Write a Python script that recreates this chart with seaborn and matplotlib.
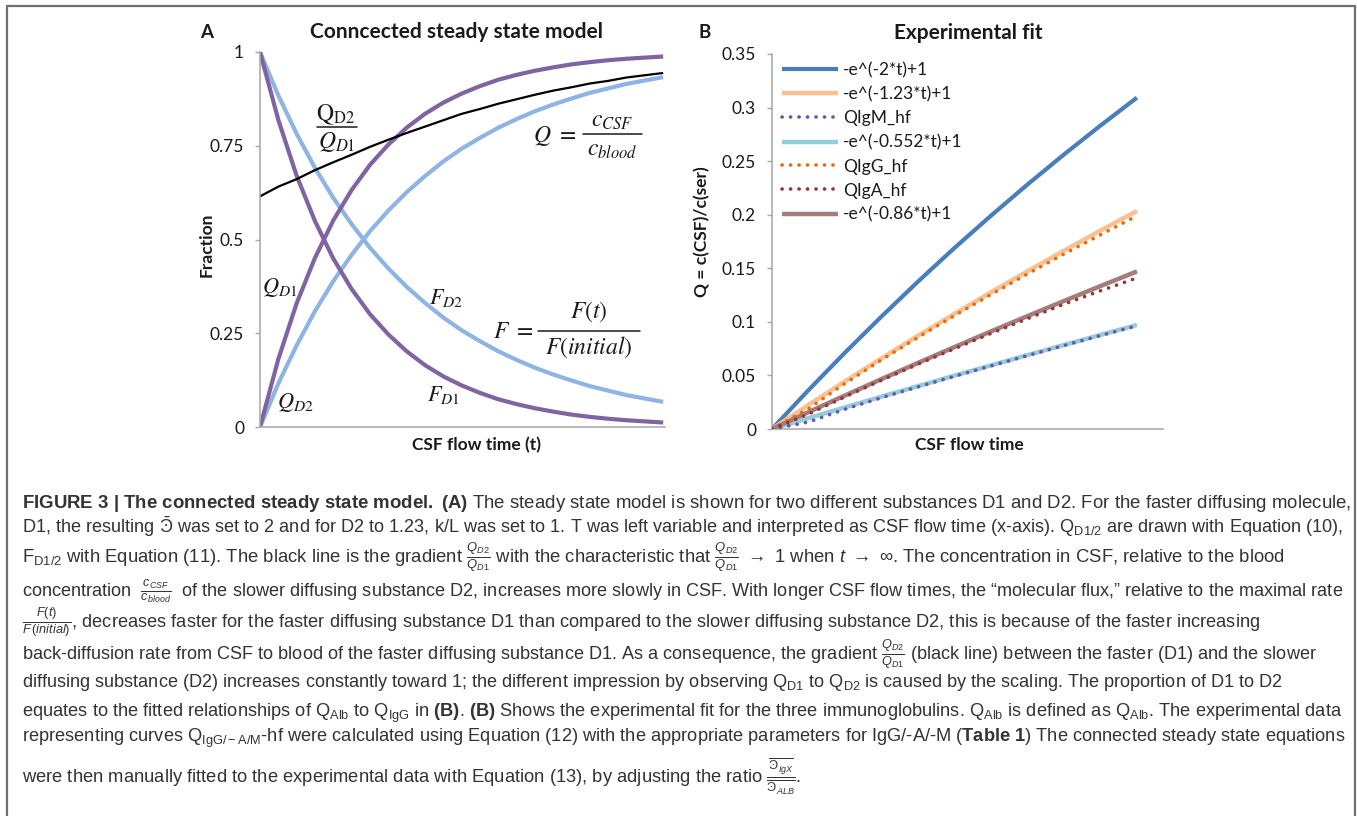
import matplotlib
matplotlib.use("Agg")
import matplotlib.pyplot as plt
from matplotlib.lines import Line2D
import seaborn as sns
import numpy as np
import pandas as pd

# ---------------- data ----------------
# Panel A: connected steady state model
t_A = [0.0, 0.1, 0.2, 0.3, 0.4, 0.5, 0.6, 0.7, 0.8, 0.9, 1.0, 1.1,
       1.2, 1.3, 1.4, 1.5, 1.6, 1.7, 1.8, 1.9, 2.0, 2.1, 2.2]
Q_D1 = [0.000, 0.181, 0.330, 0.451, 0.551, 0.632, 0.699, 0.753, 0.798, 0.835, 0.865, 0.889,
        0.909, 0.926, 0.939, 0.950, 0.959, 0.967, 0.973, 0.978, 0.982, 0.985, 0.988]
Q_D2 = [0.000, 0.116, 0.218, 0.309, 0.389, 0.459, 0.522, 0.577, 0.626, 0.669, 0.708, 0.742,
        0.771, 0.798, 0.821, 0.842, 0.860, 0.876, 0.891, 0.903, 0.915, 0.924, 0.933]
F_D1 = [1.000, 0.819, 0.670, 0.549, 0.449, 0.368, 0.301, 0.247, 0.202, 0.165, 0.135, 0.111,
        0.091, 0.074, 0.061, 0.050, 0.041, 0.033, 0.027, 0.022, 0.018, 0.015, 0.012]
F_D2 = [1.000, 0.884, 0.782, 0.691, 0.611, 0.541, 0.478, 0.423, 0.374, 0.331, 0.292, 0.258,
        0.229, 0.202, 0.179, 0.158, 0.140, 0.124, 0.109, 0.097, 0.085, 0.076, 0.067]
Q_ratio = [0.615, 0.641, 0.661, 0.685, 0.706, 0.726, 0.747, 0.766, 0.784, 0.801, 0.818, 0.835,
           0.848, 0.862, 0.874, 0.886, 0.897, 0.906, 0.916, 0.923, 0.932, 0.938, 0.944]
yticks_A = [0, 0.25, 0.5, 0.75, 1]
yticklabels_A = ["0", "0.25", "0.5", "0.75", "1"]

# Panel B: experimental fit
t_B = [0.0, 0.0185, 0.037, 0.0555, 0.074, 0.0925, 0.111, 0.1295, 0.148, 0.1665, 0.185]
fit_2 = [0.0, 0.0363, 0.0713, 0.1050, 0.1376, 0.1690, 0.1991, 0.2282, 0.2562, 0.2832, 0.3093]
fit_123 = [0.0, 0.0225, 0.0445, 0.0660, 0.0870, 0.1075, 0.1276, 0.1472, 0.1664, 0.1852, 0.2035]
IgM_hf = [0.0, 0.0065, 0.0185, 0.0292, 0.0393, 0.0492, 0.0589, 0.0685, 0.0779, 0.0872, 0.0963]
fit_0552 = [0.0, 0.0102, 0.0202, 0.0302, 0.0400, 0.0498, 0.0594, 0.0690, 0.0784, 0.0878, 0.0971]
IgG_hf = [0.0, 0.0190, 0.0425, 0.0645, 0.0855, 0.1058, 0.1255, 0.1447, 0.1633, 0.1812, 0.1990]
IgA_hf = [0.0, 0.0140, 0.0300, 0.0455, 0.0605, 0.0750, 0.0892, 0.1030, 0.1165, 0.1290, 0.1410]
fit_086 = [0.0, 0.0158, 0.0313, 0.0466, 0.0617, 0.0765, 0.0911, 0.1054, 0.1195, 0.1334, 0.1471]
series_B_labels = ["-e^(-2*t)+1", "-e^(-1.23*t)+1", "QIgM_hf", "-e^(-0.552*t)+1",
                   "QIgG_hf", "QIgA_hf", "-e^(-0.86*t)+1"]
yticks_B = [0, 0.05, 0.1, 0.15, 0.2, 0.25, 0.3, 0.35]
yticklabels_B = ["0", "0.05", "0.1", "0.15", "0.2", "0.25", "0.3", "0.35"]

# ---------------- style ----------------
W, H = 1357, 816
sns.set_theme(style="white")
plt.rcParams["font.family"] = ["Lato", "DejaVu Sans"]
plt.rcParams["mathtext.fontset"] = "custom"
plt.rcParams["mathtext.rm"] = "Liberation Sans"
plt.rcParams["mathtext.it"] = "Liberation Sans:italic"
plt.rcParams["mathtext.bf"] = "Liberation Sans:bold"
plt.rcParams["mathtext.sf"] = "Liberation Sans"
plt.rcParams["mathtext.fallback"] = "stixsans"

fig = plt.figure(figsize=(W / 100, H / 100), dpi=100)
fig.patch.set_facecolor("white")


def fx(px):
    return px / W


def fy(py):
    return 1 - py / H


PURPLE = "#8064A2"
LBLUE = "#8DB4E2"
AXC = "#A6A6A6"
TXT = "#1a1a1a"

axA = fig.add_axes([fx(260), fy(427), (665 - 260) / W, (427 - 52) / H])
axB = fig.add_axes([fx(772), fy(429), (1163 - 772) / W, (429 - 54) / H])

# ---------------- panel A ----------------
dfA = pd.DataFrame({"t": t_A, "QD1": Q_D1, "QD2": Q_D2, "FD1": F_D1, "FD2": F_D2, "R": Q_ratio})
for col, colr, lw in [("FD2", LBLUE, 3.0), ("QD2", LBLUE, 3.0), ("FD1", PURPLE, 3.0),
                      ("QD1", PURPLE, 3.0), ("R", "black", 1.6)]:
    sns.lineplot(data=dfA, x="t", y=col, ax=axA, color=colr, linewidth=lw, sort=False,
                 errorbar=None, solid_capstyle="butt", solid_joinstyle="round")
axA.set_xlim(0, 2.21)
axA.set_ylim(0, 1)
axA.set_yticks(yticks_A)
axA.set_yticklabels(yticklabels_A)

# ---------------- panel B ----------------
dfB = pd.DataFrame({"t": t_B, "s0": fit_2, "s1": fit_123, "s2": IgM_hf, "s3": fit_0552,
                    "s4": IgG_hf, "s5": IgA_hf, "s6": fit_086})
DOT = (0, (0.05, 2.3))
styles_B = [
    ("s0", "#4A7EBB", 3.0, "-", 3),
    ("s1", "#FAC090", 3.2, "-", 3),
    ("s2", "#7052A0", 2.6, DOT, 5),
    ("s3", "#93CDDD", 3.2, "-", 3),
    ("s4", "#E46C0A", 2.6, DOT, 5),
    ("s5", "#953735", 2.6, DOT, 5),
    ("s6", "#A37C7C", 3.2, "-", 3),
]
handles = []
for (col, colr, lw, ls, z), lab in zip(styles_B, series_B_labels):
    sns.lineplot(data=dfB, x="t", y=col, ax=axB, color=colr, linewidth=lw, linestyle=ls,
                 sort=False, errorbar=None, dash_capstyle="round", solid_capstyle="butt",
                 zorder=z)
    handles.append(Line2D([0], [0], color=colr, linewidth=lw, linestyle=ls,
                          dash_capstyle="round", solid_capstyle="butt"))
axB.set_xlim(0, 0.1982)
axB.set_ylim(0, 0.35)
axB.set_yticks(yticks_B)
axB.set_yticklabels(yticklabels_B)
leg = axB.legend(handles, series_B_labels, loc="upper left", bbox_to_anchor=(0.0256, 0.978),
                 frameon=False, fontsize=12.5, handlelength=3.2, handletextpad=0.3,
                 labelspacing=0.46, borderaxespad=0, borderpad=0)
for txt in leg.get_texts():
    txt.set_color(TXT)

for ax in (axA, axB):
    sns.despine(ax=ax)
    ax.set_xlabel("")
    ax.set_ylabel("")
    ax.spines["left"].set_color(AXC)
    ax.spines["bottom"].set_color(AXC)
    ax.spines["left"].set_linewidth(1.1)
    ax.spines["bottom"].set_linewidth(1.1)
    ax.set_xticks([])
    ax.tick_params(axis="y", left=True, length=3.5, width=1, color=AXC, labelsize=12.5,
                   pad=8, labelcolor=TXT)
    ax.grid(False)
    ax.set_facecolor("white")

# ---------------- panel titles / labels ----------------
fig.text(fx(207), fy(32), "A", fontsize=13.5, fontweight="bold", ha="center", va="center", color=TXT)
fig.text(fx(457), fy(32), "Conncected steady state model", fontsize=15, fontweight="bold",
         ha="center", va="center", color=TXT)
fig.text(fx(207), fy(245), "Fraction", fontsize=12.5, fontweight="bold", rotation=90,
         ha="center", va="center", color=TXT)
fig.text(fx(476), fy(445), "CSF flow time (t)", fontsize=12.5, fontweight="bold",
         ha="center", va="center", color=TXT)

fig.text(fx(705), fy(32), "B", fontsize=13.5, fontweight="bold", ha="center", va="center", color=TXT)
fig.text(fx(968), fy(33), "Experimental fit", fontsize=15, fontweight="bold",
         ha="center", va="center", color=TXT)
fig.text(fx(702), fy(232), "Q = c(CSF)/c(ser)", fontsize=12.5, fontweight="bold", rotation=90,
         ha="center", va="center", color=TXT)
fig.text(fx(969), fy(445), "CSF flow time", fontsize=12.5, fontweight="bold",
         ha="center", va="center", color=TXT)

# ---------------- panel A annotations ----------------
AFS = 17


def mtext(px, py, s, fs=AFS):
    fig.text(fx(px), fy(py), s, fontsize=fs, ha="center", va="center", color=TXT,
             math_fontfamily="stix")


def hbar(x0, x1, y):
    fig.add_artist(Line2D([fx(x0), fx(x1)], [fy(y), fy(y)], transform=fig.transFigure,
                          color=TXT, lw=1.1))


# Q_D2 / Q_D1
mtext(336, 115, r"$\mathrm{Q}_{\mathrm{D2}}$")
hbar(317, 357, 127)
mtext(337, 142, r"$Q_{D1}$")
# Q = c_CSF / c_blood
mtext(555, 136, r"$Q\ =$")
mtext(612, 121, r"$c_{CSF}$")
hbar(583, 642, 134)
mtext(612, 150, r"$c_{blood}$")
# F = F(t) / F(initial)
mtext(513, 332, r"$F\ =$")
mtext(589, 312, r"$F(t)$")
hbar(538, 640, 331)
mtext(589, 347, r"$F(initial)$")
# single labels
mtext(280, 287, r"$Q_{D1}$", 16)
mtext(295, 403, r"$Q_{D2}$", 16)
mtext(446, 298, r"$F_{D2}$", 16)
mtext(443, 395, r"$F_{D1}$", 16)

# ---------------- frame ----------------
FR = "#707070"
fig.add_artist(Line2D([fx(7), fx(7)], [fy(6), 0], transform=fig.transFigure, color=FR, lw=1.6))
fig.add_artist(Line2D([fx(7), fx(1355)], [fy(6), fy(6)], transform=fig.transFigure, color=FR, lw=1.6))
fig.add_artist(Line2D([fx(1355), fx(1355)], [fy(6), 0], transform=fig.transFigure, color=FR, lw=1.6))

# ---------------- caption ----------------
cap_lines = [
    (508, 1345, r"$\mathbf{FIGURE\ 3\ |\ The\ connected\ steady\ state\ model.\ (A)}$ The steady state model is shown for two different substances D1 and D2. For the faster diffusing molecule,"),
    (533, 1344, r"D1, the resulting $\bar{Ͽ}$ was set to 2 and for D2 to 1.23, k/L was set to 1. T was left variable and interpreted as CSF flow time (x-axis). Q$_{\mathrm{D1/2}}$ are drawn with Equation (10),"),
    (562, 1284, r"F$_{\mathrm{D1/2}}$ with Equation (11). The black line is the gradient $\frac{Q_{D2}}{Q_{D1}}$ with the characteristic that $\frac{Q_{D2}}{Q_{D1}}$ $\rightarrow$ 1 when $t$ $\rightarrow$ $\infty$. The concentration in CSF, relative to the blood"),
    (596, 1341, r"concentration  $\frac{c_{CSF}}{c_{blood}}$  of the slower diffusing substance D2, increases more slowly in CSF. With longer CSF flow times, the “molecular flux,” relative to the maximal rate"),
    (627, 1257, r"$\frac{F(t)}{F\,(initial)}$, decreases faster for the faster diffusing substance D1 than compared to the slower diffusing substance D2, this is because of the faster increasing"),
    (659, 1319, r"back-diffusion rate from CSF to blood of the faster diffusing substance D1. As a consequence, the gradient $\frac{Q_{D2}}{Q_{D1}}$ (black line) between the faster (D1) and the slower"),
    (687, 1284, r"diffusing substance (D2) increases constantly toward 1; the different impression by observing Q$_{\mathrm{D1}}$ to Q$_{\mathrm{D2}}$ is caused by the scaling. The proportion of D1 to D2"),
    (717, 1341, r"equates to the fitted relationships of Q$_{\mathrm{Alb}}$ to Q$_{\mathrm{IgG}}$ in $\mathbf{(B)}$. $\mathbf{(B)}$ Shows the experimental fit for the three immunoglobulins. Q$_{\mathrm{Alb}}$ is defined as Q$_{\mathrm{Alb}}$. The experimental data"),
    (742, 1341, r"representing curves Q$_{\mathrm{IgG/-A/M}}$-hf were calculated using Equation (12) with the appropriate parameters for IgG/-A/-M ($\mathbf{Table\ 1}$) The connected steady state equations"),
    (782, 797, r"were then manually fitted to the experimental data with Equation (13), by adjusting the ratio $\frac{\overline{Ͽ_{IgX}}}{\overline{Ͽ_{ALB}}}$."),
]
CAPC = "#333333"
base_fs = 12.0
fig.canvas.draw()
renderer = fig.canvas.get_renderer()
for py, right, s in cap_lines:
    probe = fig.text(fx(22), fy(py), s, fontsize=base_fs, family=["Liberation Sans"],
                     math_fontfamily="custom")
    w0 = probe.get_window_extent(renderer).width
    probe.remove()
    fs = base_fs * (right - 22) / w0
    fig.text(fx(22), fy(py), s, fontsize=fs, family=["Liberation Sans"], color=CAPC,
             ha="left", va="baseline", math_fontfamily="custom")

fig.savefig("out.png", dpi=100, facecolor="white")
